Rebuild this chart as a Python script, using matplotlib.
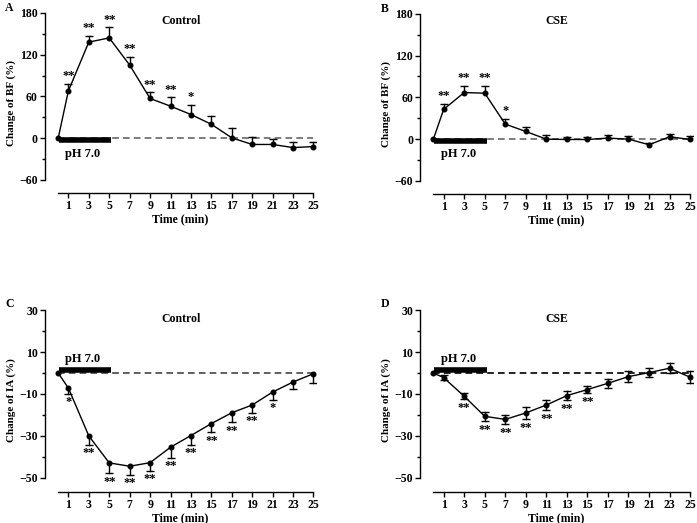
import matplotlib
matplotlib.use("Agg")
import matplotlib.pyplot as plt
from matplotlib.ticker import MultipleLocator

plt.rcParams['font.family'] = ['Liberation Serif', 'DejaVu Serif']
plt.rcParams['font.weight'] = 'bold'

# time points (min)
time = [0, 1, 3, 5, 7, 9, 11, 13, 15, 17, 19, 21, 23, 25]
time_ticks = [1, 3, 5, 7, 9, 11, 13, 15, 17, 19, 21, 23, 25]

# A: BF, control
bf_control = [0, 68, 138, 144, 105, 57, 46, 34, 20, 0.5, -9, -9, -13.5, -12]
bf_control_err = [0, 10, 9, 15, 12, 9, 13, 14, 12, 14, 10, 8, 7.5, 7]
bf_control_sig = ['', '**', '**', '**', '**', '**', '**', '*', '', '', '', '', '', '']

# B: BF, CSE
bf_cse = [0, 42.7, 67, 66, 21.6, 11, 0, -0.5, -0.5, 1.5, 0, -8, 3.4, -0.5]
bf_cse_err = [0, 8, 10, 11, 8, 6, 6, 3.5, 3.5, 4.5, 4, 2, 4.5, 5]
bf_cse_sig = ['', '**', '**', '**', '*', '', '', '', '', '', '', '', '', '']

# C: IA, control
ia_control = [0, -7.2, -30.1, -43, -44.6, -42.9, -35.5, -29.9, -24.2, -19, -15.3, -9.1, -4.3, -0.3]
ia_control_err = [0, 2.7, 4.2, 4.8, 4, 3.8, 5, 4.4, 4, 4.4, 3.6, 3.6, 3.2, 4.3]
ia_control_sig = ['', '*', '**', '**', '**', '**', '**', '**', '**', '**', '**', '*', '', '']

# D: IA, CSE
ia_cse = [0, -2.2, -11.1, -20.7, -22.2, -19.1, -15.3, -10.8, -7.9, -4.9, -1.7, 0.2, 2.3, -2]
ia_cse_err = [0, 1.2, 1.5, 2.2, 2.2, 2.8, 2.5, 2, 1.8, 2.2, 2.5, 2.2, 2.5, 3]
ia_cse_sig = ['', '', '**', '**', '**', '**', '**', '**', '**', '', '', '', '', '']


def draw_errors(ax, y, err, up, down):
    # one- or two-sided error bars with flat caps, skipping zero errors
    for t, v, e in zip(time, y, err):
        if e <= 0:
            continue
        lo = v - e if down else v
        hi = v + e if up else v
        ax.plot([t, t], [lo, hi], color='black', lw=1.0, zorder=2)
        ends = ([hi] if up else []) + ([lo] if down else [])
        ax.plot([t] * len(ends), ends, ls='none', marker='_', ms=6, mew=1.0,
                color='black', zorder=2)


def draw_panel(fig, rect, y, err, sig, letter, title, ylabel, kind):
    ax = fig.add_axes(rect)
    ax.patch.set_alpha(0)
    if kind == 'BF':
        ylo, yhi, ymin_ax = -60, 180, -79
        up, down = True, False
        dash_color = '#666666'
        bar_y, label_y = -3, -22
        ax.yaxis.set_major_locator(MultipleLocator(60))
        ax.yaxis.set_minor_locator(MultipleLocator(30))
        title_y = 169
    else:
        ylo, yhi, ymin_ax = -50, 30, -56.8
        if kind == 'IA_C':
            up, down = False, True
            dash_color = '#444444'
        else:
            up, down = True, True
            dash_color = '#000000'
        bar_y, label_y = 1.3, 6.6
        ax.set_yticks([30, 10, -10, -30, -50])
        ax.set_yticks([20, 0, -20, -40], minor=True)
        title_y = 25.7

    ax.set_xlim(-1.35, 25.25)
    ax.set_ylim(ymin_ax, yhi + 0.8)

    ax.plot([0, 25], [0, 0], ls=(0, (4, 2.5)), color=dash_color, lw=1.2, zorder=1)
    draw_errors(ax, y, err, up, down)
    ax.plot(time, y, '-o', color='black', ms=3.3, lw=1.0, zorder=3)
    ax.plot([0.1, 5.2], [bar_y, bar_y], color='black', lw=4, solid_capstyle='butt', zorder=2)
    ax.text(0.7, label_y, 'pH 7.0', fontsize=9, fontweight='bold',
            va='center', ha='left')

    for t, v, e, s in zip(time, y, err, sig):
        if not s:
            continue
        if kind == 'BF':
            ax.annotate(s, (t, v + e), xytext=(0, 1), textcoords='offset points',
                        ha='center', va='bottom', fontsize=9, fontweight='bold')
        else:
            ax.annotate(s, (t, v - e), xytext=(0, -2), textcoords='offset points',
                        ha='center', va='top', fontsize=9, fontweight='bold')

    ax.text(12, title_y, title, ha='center', va='center', fontsize=8.5, fontweight='bold')

    for side in ['top', 'right']:
        ax.spines[side].set_visible(False)
    ax.spines['left'].set_bounds(ylo, yhi)
    ax.spines['left'].set_position(('data', -1.3))
    ax.spines['bottom'].set_bounds(0, 25)
    ax.spines['bottom'].set_position(('data', ymin_ax))
    ax.spines['left'].set_linewidth(1.0)
    ax.spines['bottom'].set_linewidth(1.0)

    ax.set_xticks(time_ticks)
    ax.tick_params(axis='x', which='major', length=3.5, width=1, labelsize=8.5, pad=1.5)
    ax.tick_params(axis='y', which='major', length=3.5, width=1, labelsize=8.5, pad=1.5)
    ax.tick_params(axis='y', which='minor', length=2.5, width=1)
    for lab in ax.get_xticklabels() + ax.get_yticklabels():
        lab.set_fontweight('bold')
    ax.set_xlabel('Time (min)', fontsize=8.5, fontweight='bold', labelpad=1)
    ax.set_ylabel(ylabel, fontsize=8, fontweight='bold', labelpad=2.5)
    fig.text(rect[0] - 0.056, rect[1] + rect[3] + 0.02, letter, fontsize=8.5,
             fontweight='bold', va='top', ha='left')
    return ax


fig = plt.figure(figsize=(6.97, 5.23), dpi=100)

draw_panel(fig, [0.0637, 0.6306, 0.3897, 0.3459], bf_control, bf_control_err,
           bf_control_sig, 'A', 'Control', 'Change of BF (%)', 'BF')
draw_panel(fig, [0.6019, 0.6288, 0.3919, 0.3458], bf_cse, bf_cse_err,
           bf_cse_sig, 'B', 'CSE', 'Change of BF (%)', 'BF')
draw_panel(fig, [0.0637, 0.0598, 0.3897, 0.3500], ia_control, ia_control_err,
           ia_control_sig, 'C', 'Control', 'Change of IA (%)', 'IA_C')
draw_panel(fig, [0.6019, 0.0598, 0.3919, 0.3500], ia_cse, ia_cse_err,
           ia_cse_sig, 'D', 'CSE', 'Change of IA (%)', 'IA_D')

fig.savefig('out.png', dpi=100)
